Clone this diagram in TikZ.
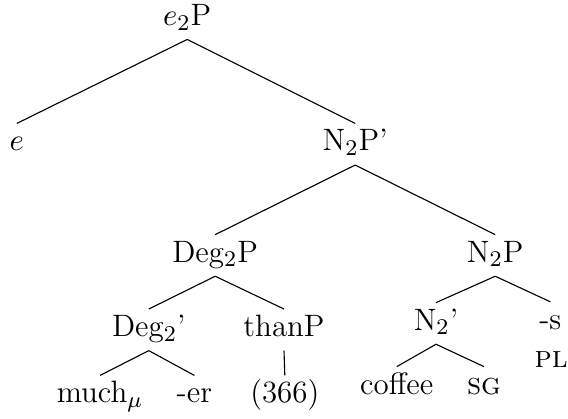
\documentclass[tikz,border=0pt]{standalone}
\usepackage{amsmath,amssymb}
\usepackage{xcolor}
\usepackage{tikz}
\definecolor{figline}{RGB}{0,0,0}
\tikzset{
  lab/.style ={anchor=base, inner sep=3pt, text height=6.6pt, text depth=1.8pt},
  br/.style  ={draw=figline, line width=0.4pt},
}
\begin{document}
\begin{tikzpicture}[scale=1, font=\fontsize{11pt}{13.5pt}\selectfont]
  \useasboundingbox (0,0) rectangle (7.1,5.2375);
  % level 0 and 1
  \node[lab] (e2P) at (2.34,4.92) {$e_2$P};
  \node[lab] (e) at (0.21,3.35) {$e$};
  \node[lab] (N2Pbar) at (4.44,3.35) {N$_2$P'};
  % level 2
  \node[lab] (Deg2P) at (2.69,1.96) {Deg$_2$P};
  \node[lab] (N2P) at (6.19,1.96) {N$_2$P};
  % level 3
  \node[lab] (Deg2bar) at (1.86,1.03) {Deg$_2$'};
  \node[lab] (thanP) at (3.55,1.03) {thanP};
  \node[lab] (N2bar) at (5.45,1.11) {N$_2$'};
  \node[lab] (s) at (6.88,1.12) {-s};
  \node[lab] (pl) at (6.89,0.64) {\textsc{pl}};
  % leaves
  \node[lab] (much) at (1.25,0.20) {much$_\mu$};
  \node[lab] (er) at (2.43,0.20) {-er};
  \node[lab] (ex366) at (3.56,0.20) {(366)};
  \node[lab] (coffee) at (4.96,0.31) {coffee};
  \node[lab] (sg) at (6.05,0.31) {\textsc{sg}};
  % branches
  \draw[br] (e2P.south) -- (e.north);
  \draw[br] (e2P.south) -- (N2Pbar.north);
  \draw[br] (N2Pbar.south) -- (Deg2P.north);
  \draw[br] (N2Pbar.south) -- (N2P.north);
  \draw[br] (Deg2P.south) -- (Deg2bar.north);
  \draw[br] (Deg2P.south) -- (thanP.north);
  \draw[br] (Deg2bar.south) -- (much.north);
  \draw[br] (Deg2bar.south) -- (er.north);
  \draw[br] (thanP.south) -- (ex366.north);
  \draw[br] (N2P.south) -- (N2bar.north);
  \draw[br] (N2P.south) -- (s.north);
  \draw[br] (N2bar.south) -- (coffee.north);
  \draw[br] (N2bar.south) -- (sg.north);
\end{tikzpicture}
\end{document}
